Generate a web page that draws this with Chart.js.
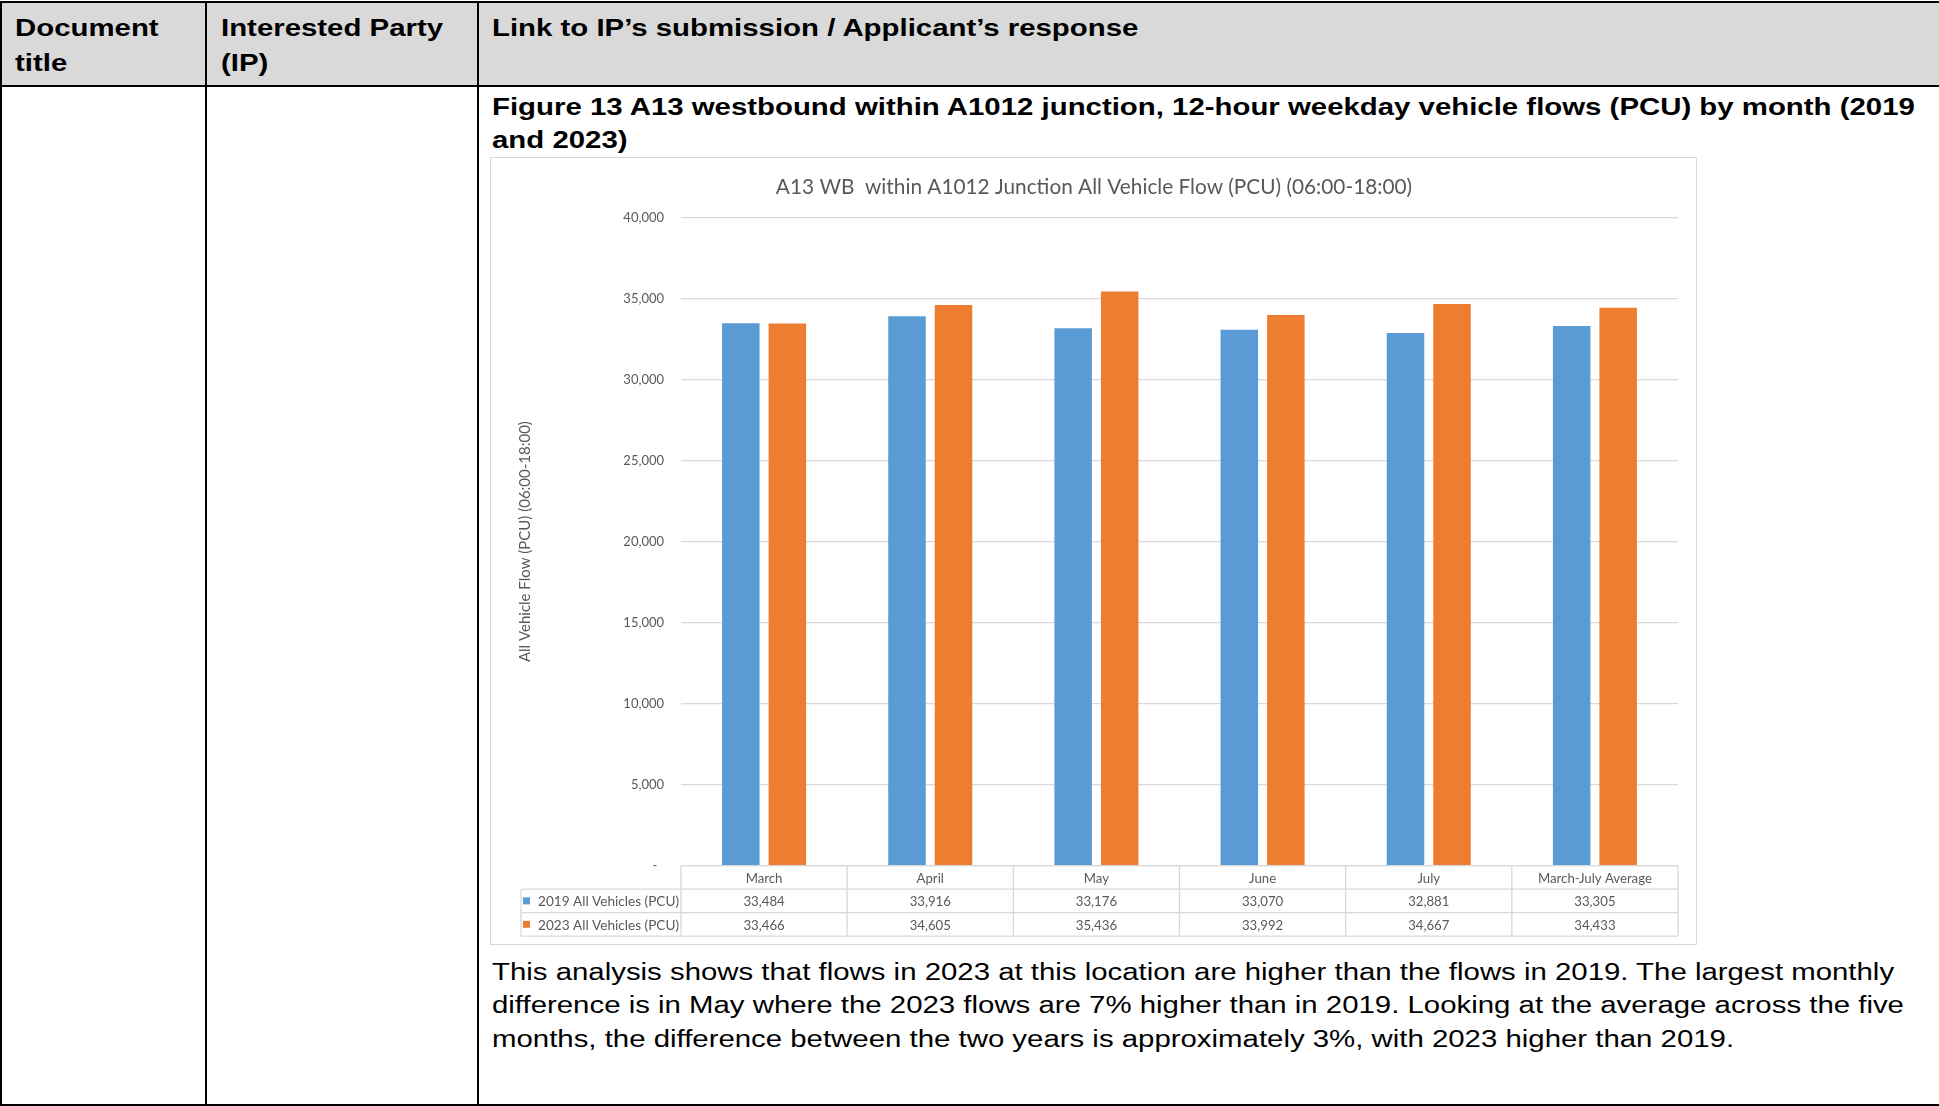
<!DOCTYPE html>
<html>
<head>
<meta charset="utf-8">
<title>A13 WB within A1012 Junction</title>
<script src="https://cdn.jsdelivr.net/npm/chart.js@4.4.0/dist/chart.umd.min.js"></script>
<style>
  html, body { margin: 0; padding: 0; background: #fff; }
  body { width: 1939px; height: 1106px; position: relative; overflow: hidden; }
  .rule { position: absolute; background: #000; }
  .txt {
    position: absolute;
    font-family: "Liberation Sans", Arial, sans-serif;
    font-size: 23.5px;
    line-height: 33.4px;
    color: #000;
    white-space: nowrap;
    transform: scaleX(1.25);
    transform-origin: 0 0;
  }
  .b { font-weight: bold; }
  .head { line-height: 34.6px; }
  #chartBox {
    position: absolute; left: 490px; top: 157px; width: 1207px; height: 788px;
    box-sizing: border-box; border: 1.5px solid #d9d9d9;
  }
  #flowChart { position: absolute; left: 490px; top: 157px; }
</style>
</head>
<body>

<!-- table header band and borders -->
<div style="position:absolute;left:0;top:3px;width:1939px;height:82px;background:#d9d9d9"></div>
<div class="rule" style="left:0;top:1px;width:1939px;height:2px"></div>
<div class="rule" style="left:0;top:85px;width:1939px;height:2px"></div>
<div class="rule" style="left:0;top:1104px;width:1939px;height:2px"></div>
<div class="rule" style="left:0;top:1px;width:2px;height:1105px"></div>
<div class="rule" style="left:205px;top:1px;width:2px;height:1105px"></div>
<div class="rule" style="left:477px;top:1px;width:2px;height:1105px"></div>

<div class="txt b head" style="left:15px;top:11.4px">Document<br>title</div>
<div class="txt b head" style="left:221px;top:11.4px">Interested Party<br>(IP)</div>
<div class="txt b head" style="left:492px;top:11.4px">Link to IP’s submission / Applicant’s response</div>

<div class="txt b" style="left:492px;top:90.5px">Figure 13 A13 westbound within A1012 junction, 12-hour weekday vehicle flows (PCU) by month (2019<br>and 2023)</div>

<div id="chartBox"></div>
<canvas id="flowChart" width="1207" height="788"></canvas>

<div class="txt" style="left:492px;top:956px">This analysis shows that flows in 2023 at this location are higher than the flows in 2019. The largest monthly<br>difference is in May where the 2023 flows are 7% higher than in 2019. Looking at the average across the five<br>months, the difference between the two years is approximately 3%, with 2023 higher than 2019.</div>

<script>
// 12-hour weekday flows (PCU), 06:00-18:00
const months = ['March', 'April', 'May', 'June', 'July', 'March-July Average'];
const flows2019 = [33484, 33916, 33176, 33070, 32881, 33305];
const flows2023 = [33466, 34605, 35436, 33992, 34667, 34433];
const seriesNames = ['2019 All Vehicles (PCU)', '2023 All Vehicles (PCU)'];
const seriesColours = ['#5B9BD5', '#ED7D31'];
const yMin = 0;
const yMax = 40000;
const yStep = 5000;

const chartTitle = 'A13 WB  within A1012 Junction All Vehicle Flow (PCU) (06:00-18:00)';
const GREY_TEXT = '#595959';
const GRID = '#d9d9d9';
const chartFont = 'Lato';

const fmt = v => v.toLocaleString('en-GB');

// Excel style data table drawn under the plot, aligned on the x scale,
// plus the chart title (centred on the whole chart box, not the padded area)
const dataTable = {
    id: 'dataTable',
    afterDraw(chart) {
        const c = chart.ctx;
        const area = chart.chartArea;
        const xs = chart.scales.x;
        const catW = (area.right - area.left) / months.length;
        const rowH = 23.5;
        const top = area.bottom;
        const keyLeft = 31;

        c.save();
        c.fillStyle = GREY_TEXT;
        c.font = '20.8px ' + chartFont;
        c.textAlign = 'center';
        c.textBaseline = 'middle';
        c.fillText(chartTitle, 604, 30);

        c.strokeStyle = GRID;
        c.lineWidth = 1.3;

        // horizontal rules
        c.beginPath();
        c.moveTo(area.left, top);
        c.lineTo(area.right, top);
        for (let r = 1; r <= 3; r++) {
            c.moveTo(keyLeft, top + r * rowH);
            c.lineTo(area.right, top + r * rowH);
        }
        // vertical rules
        c.moveTo(keyLeft, top + rowH);
        c.lineTo(keyLeft, top + 3 * rowH);
        for (let i = 0; i <= months.length; i++) {
            const x = area.left + i * catW;
            c.moveTo(x, top);
            c.lineTo(x, top + 3 * rowH);
        }
        c.stroke();

        c.font = '13.2px ' + chartFont;
        c.fillStyle = GREY_TEXT;
        c.textAlign = 'center';
        months.forEach((m, i) => {
            const cx = xs.getPixelForValue(i);
            c.fillText(m, cx, top + rowH / 2 + 1);
            c.fillText(fmt(flows2019[i]), cx, top + rowH * 1.5 + 1);
            c.fillText(fmt(flows2023[i]), cx, top + rowH * 2.5 + 1);
        });

        // series keys
        c.textAlign = 'left';
        c.font = '13.6px ' + chartFont;
        seriesNames.forEach((name, k) => {
            const cy = top + rowH * (1.5 + k);
            c.fillStyle = seriesColours[k];
            c.fillRect(keyLeft + 2, cy - 3.5, 7, 7);
            c.fillStyle = GREY_TEXT;
            c.fillText(name, keyLeft + 17, cy + 1);
        });
        c.restore();
    }
};

const ctx = document.getElementById('flowChart').getContext('2d');

const flowChart = new Chart(ctx, {
    type: 'bar',
    data: {
        labels: months,
        datasets: [{
            label: seriesNames[0],
            data: flows2019,
            backgroundColor: seriesColours[0],
            categoryPercentage: 0.56,
            barPercentage: 0.806
        }, {
            label: seriesNames[1],
            data: flows2023,
            backgroundColor: seriesColours[1],
            categoryPercentage: 0.56,
            barPercentage: 0.806
        }]
    },
    options: {
        responsive: false,
        animation: false,
        layout: { padding: { left: 0, right: 19, top: 60.6, bottom: 0 } },
        plugins: {
            legend: { display: false },
            tooltip: { enabled: false },
            title: { display: false }
        },
        scales: {
            x: {
                grid: { display: false },
                border: { display: false },
                ticks: { display: false },
                afterFit: s => { s.height = 79.4; }
            },
            y: {
                min: yMin,
                max: yMax,
                border: { display: false },
                grid: { color: GRID, lineWidth: 1.3, drawTicks: false },
                ticks: {
                    stepSize: yStep,
                    padding: 17,
                    color: GREY_TEXT,
                    font: { family: chartFont, size: 13 },
                    callback: v => v === 0 ? '-  ' : fmt(v)
                },
                title: {
                    display: true,
                    text: 'All Vehicle Flow (PCU) (06:00-18:00)',
                    color: GREY_TEXT,
                    font: { family: chartFont, size: 15 },
                    padding: { top: 26 }
                },
                afterFit: s => { s.width = 191; }
            }
        }
    },
    plugins: [dataTable]
});
</script>
</body>
</html>
